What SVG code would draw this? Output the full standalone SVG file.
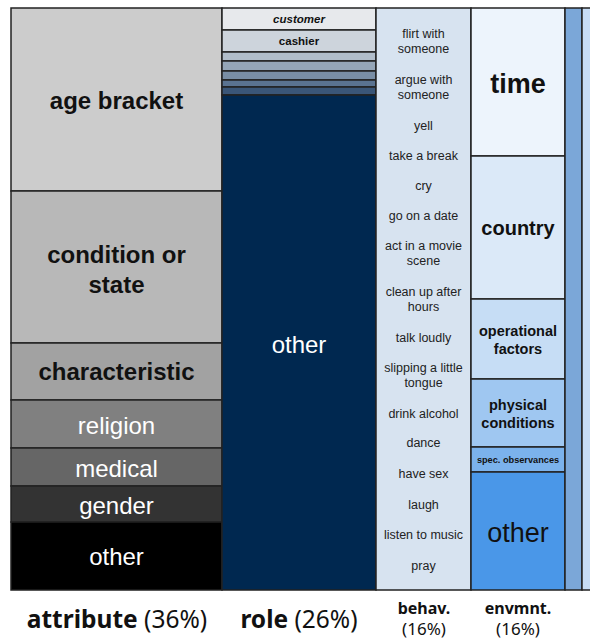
<svg xmlns="http://www.w3.org/2000/svg" width="590" height="639" viewBox="0 0 590 639">
<style>
rect{stroke:#222;stroke-width:1.5}
text{font-family:"Liberation Sans",Arial,sans-serif;text-anchor:middle}
.b24{font-size:24px;font-weight:bold;fill:#111}
.w24{font-size:24px;fill:#fff}
.beh{font-size:12.5px;fill:#222}
.lab{font-family:"Noto Sans",sans-serif;fill:#111}
</style>
<rect x="0" y="0" width="590" height="639" style="fill:#fff;stroke:none"/>
<g id="attribute">
<g id="age-bracket"><rect x="11" y="8" width="211" height="183" fill="#cccccc"/><text class="b24" x="116.5" y="108.5">age bracket</text></g>
<g id="condition"><rect x="11" y="191" width="211" height="152" fill="#b8b8b8"/><text class="b24" x="116.5" y="262.5">condition or</text><text class="b24" x="116.5" y="292.5">state</text></g>
<g id="characteristic"><rect x="11" y="343" width="211" height="57" fill="#a2a2a2"/><text class="b24" x="116.5" y="379.5">characteristic</text></g>
<g id="religion"><rect x="11" y="400" width="211" height="48" fill="#808080"/><text class="w24" x="116.5" y="433.5">religion</text></g>
<g id="medical"><rect x="11" y="448" width="211" height="38" fill="#666666"/><text class="w24" x="116.5" y="476.5">medical</text></g>
<g id="gender"><rect x="11" y="486" width="211" height="36" fill="#333333"/><text class="w24" x="116.5" y="513.5">gender</text></g>
<g id="attr-other"><rect x="11" y="522" width="211" height="68" fill="#000000"/><text class="w24" x="116.5" y="564.5">other</text></g>
</g>
<g id="role">
<g id="customer"><rect x="222" y="8" width="154" height="22" fill="#e7e9ec"/><text x="299" y="23" style="font-size:11.5px;font-weight:bold;font-style:italic;fill:#111">customer</text></g>
<g id="cashier"><rect x="222" y="30" width="154" height="22" fill="#cdd4dc"/><text x="299" y="44.5" style="font-size:11.5px;font-weight:bold;fill:#111">cashier</text></g>
<g id="role-s1"><rect x="222" y="52" width="154" height="9" fill="#b1bdca"/></g>
<g id="role-s2"><rect x="222" y="61" width="154" height="10" fill="#95a6b8"/></g>
<g id="role-s3"><rect x="222" y="71" width="154" height="9" fill="#798ea5"/></g>
<g id="role-s4"><rect x="222" y="80" width="154" height="7" fill="#5a7391"/></g>
<g id="role-s5"><rect x="222" y="87" width="154" height="8" fill="#3a5678"/></g>
<g id="role-other"><rect x="222" y="95" width="154" height="495" fill="#002850"/><text class="w24" x="299" y="352.5">other</text></g>
</g>
<g id="behavior">
<rect x="376" y="8" width="95" height="582" fill="#d7e3f0"/>
<text class="beh" x="423.5" y="37.5">flirt with</text>
<text class="beh" x="423.5" y="52.5">someone</text>
<text class="beh" x="423.5" y="83.5">argue with</text>
<text class="beh" x="423.5" y="98.5">someone</text>
<text class="beh" x="423.5" y="129.5">yell</text>
<text class="beh" x="423.5" y="159.5">take a break</text>
<text class="beh" x="423.5" y="189.5">cry</text>
<text class="beh" x="423.5" y="219.5">go on a date</text>
<text class="beh" x="423.5" y="249.5">act in a movie</text>
<text class="beh" x="423.5" y="265">scene</text>
<text class="beh" x="423.5" y="295.5">clean up after</text>
<text class="beh" x="423.5" y="311">hours</text>
<text class="beh" x="423.5" y="341.5">talk loudly</text>
<text class="beh" x="423.5" y="371.5">slipping a little</text>
<text class="beh" x="423.5" y="387">tongue</text>
<text class="beh" x="423.5" y="417.5">drink alcohol</text>
<text class="beh" x="423.5" y="446.5">dance</text>
<text class="beh" x="423.5" y="477.5">have sex</text>
<text class="beh" x="423.5" y="508.5">laugh</text>
<text class="beh" x="423.5" y="538.5">listen to music</text>
<text class="beh" x="423.5" y="569.5">pray</text>
</g>
<g id="environment">
<g id="time"><rect x="471" y="8" width="94" height="148" fill="#edf4fc"/><text x="518" y="92.5" style="font-size:27px;font-weight:bold;fill:#111">time</text></g>
<g id="country"><rect x="471" y="156" width="94" height="143" fill="#dbe9f8"/><text x="518" y="235" style="font-size:20px;font-weight:bold;fill:#111">country</text></g>
<g id="operational"><rect x="471" y="299" width="94" height="80" fill="#c6ddf5"/><text x="518" y="336" style="font-size:14.5px;font-weight:bold;fill:#111">operational</text><text x="518" y="354" style="font-size:14.5px;font-weight:bold;fill:#111">factors</text></g>
<g id="physical"><rect x="471" y="379" width="94" height="68" fill="#9fc7f1"/><text x="518" y="409.5" style="font-size:14.5px;font-weight:bold;fill:#111">physical</text><text x="518" y="427.5" style="font-size:14.5px;font-weight:bold;fill:#111">conditions</text></g>
<g id="spec"><rect x="471" y="447" width="94" height="25" fill="#7bb2ec"/><text x="518" y="463.2" style="font-size:9.2px;font-weight:bold;fill:#111">spec. observances</text></g>
<g id="env-other"><rect x="471" y="472" width="94" height="118" fill="#4a97e8"/><text x="518" y="541.5" style="font-size:27px;fill:#111">other</text></g>
</g>
<g id="col5"><rect x="565" y="8" width="17" height="582" fill="#7ba7d8"/></g>
<g id="col6"><rect x="582" y="8" width="12" height="582" fill="#c6dcf5"/></g>
<g id="labels">
<text class="lab" x="117" y="628" style="font-size:24.5px"><tspan font-weight="bold">attribute</tspan> (36%)</text>
<text class="lab" x="299" y="628" style="font-size:24.5px"><tspan font-weight="bold">role</tspan> (26%)</text>
<text class="lab" x="424" y="614" style="font-size:16px;font-weight:bold">behav.</text>
<text class="lab" x="424" y="635" style="font-size:17px">(16%)</text>
<text class="lab" x="518" y="614" style="font-size:16px;font-weight:bold">envmnt.</text>
<text class="lab" x="518" y="635" style="font-size:17px">(16%)</text>
</g>
</svg>
